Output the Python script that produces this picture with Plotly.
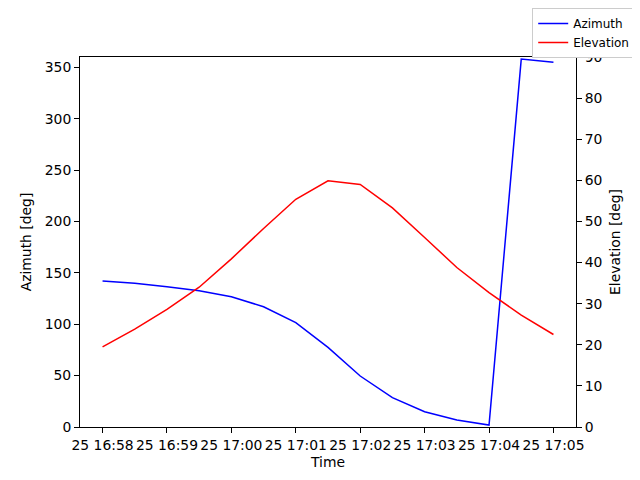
import plotly.graph_objects as go
import pandas as pd

times = pd.date_range("2024-01-25 16:58:00", "2024-01-25 17:05:00", freq="30s")
azimuth = [142, 139.8, 136.5, 132.6, 126.8, 117, 101.5, 77.5, 49.6, 28.5, 14.9, 6.8, 1.9, 358, 355]
elevation = [19.5, 23.8, 28.6, 34.0, 40.9, 48.3, 55.4, 59.9, 59.0, 53.3, 46.1, 38.8, 32.7, 27.2, 22.5]

font = dict(family="DejaVu Sans", size=13.9, color="black")

fig = go.Figure()
fig.add_trace(go.Scatter(x=times, y=azimuth, mode="lines", name="Azimuth",
                         line=dict(color="blue", width=1.5), yaxis="y"))
fig.add_trace(go.Scatter(x=times, y=elevation, mode="lines", name="Elevation",
                         line=dict(color="red", width=1.5), yaxis="y2"))

# page is shown with an 8px body offset; margins compensate for it
fig.update_layout(
    width=640, height=480,
    margin=dict(l=72, r=72, t=49, b=61, autoexpand=False),
    paper_bgcolor="white", plot_bgcolor="white",
    font=font,
    showlegend=True,
    legend=dict(xref="container", yref="container", x=0.98, y=1.004,
                xanchor="right", yanchor="top", itemwidth=30,
                bordercolor="#cccccc", borderwidth=1, bgcolor="white",
                font=dict(family="DejaVu Sans", size=12, color="black"),
                tracegroupgap=0),
    xaxis=dict(type="date",
               range=["2024-01-25 16:57:39", "2024-01-25 17:05:21"],
               tick0="2024-01-25 16:58:00", dtick=60000, tickformat="%d %H:%M",
               showgrid=False, zeroline=False, showline=True, linecolor="black",
               linewidth=1, mirror=True, ticks="outside", ticklen=5, tickcolor="black",
               title=dict(text="Time", font=font, standoff=5), tickfont=font),
    yaxis=dict(range=[0, 360], dtick=50, showgrid=False, zeroline=False,
               showline=True, linecolor="black", linewidth=1, ticks="outside",
               ticklen=5, tickcolor="black", tickfont=font,
               title=dict(text="Azimuth [deg]", font=font, standoff=9)),
    yaxis2=dict(range=[0, 90], dtick=10, overlaying="y", side="right",
                showgrid=False, zeroline=False, showline=True, linecolor="black",
                linewidth=1, ticks="outside", ticklen=5, tickcolor="black",
                tickfont=font),
    annotations=[dict(text="Elevation [deg]", textangle=-90, xref="paper", yref="paper",
                      x=1.0786, y=0.5, xanchor="center", yanchor="middle",
                      showarrow=False, font=font)],
)

fig.write_html("out.html")
